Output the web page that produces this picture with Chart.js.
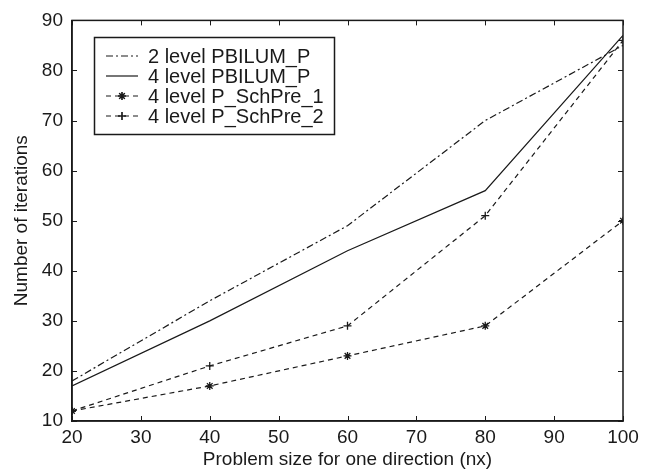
<!DOCTYPE html>
<html>
<head>
<meta charset="utf-8">
<script src="https://cdn.jsdelivr.net/npm/chart.js@4"></script>
<style>
  html, body { margin: 0; padding: 0; background: #fff; }
  #wrap { width: 653px; height: 473px; }
</style>
</head>
<body>
<div id="wrap"><canvas id="chart" width="653" height="473"></canvas></div>
<script>
// Data
const problemSizes = [20, 40, 60, 80, 100];
const twoLevelPbilum = [18, 34, 49, 70, 85];
const fourLevelPbilum = [17, 30, 44, 56, 87];
const fourLevelSchPre1 = [12, 17, 23, 29, 50];
const fourLevelSchPre2 = [12, 21, 29, 51, 86];
const xTicks = [20, 30, 40, 50, 60, 70, 80, 90, 100];
const yTicks = [10, 20, 30, 40, 50, 60, 70, 80, 90];

const ink = '#1a1a1a';
const fontFamily = "'Liberation Sans', Arial, Helvetica, sans-serif";

const toPoints = ys => problemSizes.map((x, i) => ({ x: x, y: ys[i] }));

const seriesStyles = [
  { label: '2 level PBILUM_P', data: twoLevelPbilum, dash: [7, 3, 2, 3], marker: false },
  { label: '4 level PBILUM_P', data: fourLevelPbilum, dash: [], marker: false },
  { label: '4 level P_SchPre_1', data: fourLevelSchPre1, dash: [5, 4], marker: 'star' },
  { label: '4 level P_SchPre_2', data: fourLevelSchPre2, dash: [5, 4], marker: 'cross' }
];

// Inside tick marks on all four sides + closing frame
const frameTicks = {
  id: 'frameTicks',
  afterDraw(chart) {
    const { ctx, chartArea: a, scales } = chart;
    const len = 5;
    ctx.save();
    ctx.strokeStyle = ink;
    ctx.lineWidth = 1;
    ctx.setLineDash([]);
    ctx.beginPath();
    xTicks.forEach(v => {
      const px = Math.round(scales.x.getPixelForValue(v)) + 0.5;
      ctx.moveTo(px, a.bottom); ctx.lineTo(px, a.bottom - len);
      ctx.moveTo(px, a.top); ctx.lineTo(px, a.top + len);
    });
    yTicks.forEach(v => {
      const py = Math.round(scales.y.getPixelForValue(v)) + 0.5;
      ctx.moveTo(a.left, py); ctx.lineTo(a.left + len, py);
      ctx.moveTo(a.right, py); ctx.lineTo(a.right - len, py);
    });
    ctx.stroke();
    ctx.lineWidth = 1.5;
    ctx.strokeRect(a.left, a.top, a.right - a.left, a.bottom - a.top);
    ctx.restore();
  }
};

// Legend box drawn inside the plot area, top left
const boxLegend = {
  id: 'boxLegend',
  afterDraw(chart) {
    const { ctx } = chart;
    const box = { left: 94.5, top: 37.5, width: 240, height: 97 };
    ctx.save();
    ctx.fillStyle = '#fff';
    ctx.fillRect(box.left, box.top, box.width, box.height);
    ctx.strokeStyle = ink;
    ctx.lineWidth = 1.5;
    ctx.setLineDash([]);
    ctx.strokeRect(box.left, box.top, box.width, box.height);
    ctx.font = '20px ' + fontFamily;
    ctx.textBaseline = 'middle';
    ctx.fillStyle = ink;
    seriesStyles.forEach((s, i) => {
      const y = 56 + i * 20;
      ctx.lineWidth = 1.2;
      ctx.setLineDash(s.dash);
      ctx.beginPath();
      ctx.moveTo(106, y);
      ctx.lineTo(138, y);
      ctx.stroke();
      ctx.setLineDash([]);
      if (s.marker) {
        Chart.helpers.drawPoint(ctx, { pointStyle: s.marker, radius: 4, borderWidth: 1.3 }, 122, y);
        ctx.stroke();
      }
      ctx.fillText(s.label, 148, y + 1);
    });
    ctx.restore();
  }
};

const datasets = seriesStyles.map(s => ({
  label: s.label,
  data: toPoints(s.data),
  borderColor: ink,
  backgroundColor: ink,
  borderWidth: 1.2,
  borderDash: s.dash,
  pointStyle: s.marker || 'circle',
  pointRadius: s.marker ? 4 : 0,
  pointBorderWidth: 1.3,
  pointBorderColor: ink,
  fill: false,
  tension: 0
}));

new Chart(document.getElementById('chart'), {
  type: 'line',
  data: { datasets: datasets },
  options: {
    responsive: false,
    animation: false,
    layout: { padding: { left: 0, top: 13, right: 30, bottom: 0 } },
    plugins: {
      legend: { display: false },
      tooltip: { enabled: false }
    },
    scales: {
      x: {
        type: 'linear',
        min: 20,
        max: 100,
        afterFit: s => { s.height = 52; },
        afterBuildTicks: s => { s.ticks = xTicks.map(v => ({ value: v })); },
        grid: { display: false, drawTicks: false },
        border: { display: true, color: ink, width: 1.5 },
        ticks: {
          color: ink,
          padding: 5,
          maxRotation: 0,
          font: { family: fontFamily, size: 19 }
        },
        title: {
          display: true,
          text: 'Problem size for one direction (nx)',
          color: ink,
          padding: { top: 0, bottom: 2 },
          font: { family: fontFamily, size: 19 }
        }
      },
      y: {
        type: 'linear',
        min: 10,
        max: 90,
        afterFit: s => { s.width = 72; },
        afterBuildTicks: s => { s.ticks = yTicks.map(v => ({ value: v })); },
        grid: { display: false, drawTicks: false },
        border: { display: true, color: ink, width: 1.5 },
        ticks: {
          color: ink,
          padding: 9,
          font: { family: fontFamily, size: 19 }
        },
        title: {
          display: true,
          text: 'Number of iterations',
          color: ink,
          padding: { top: 10, bottom: 0 },
          font: { family: fontFamily, size: 19 }
        }
      }
    }
  },
  plugins: [frameTicks, boxLegend]
});
</script>
</body>
</html>
